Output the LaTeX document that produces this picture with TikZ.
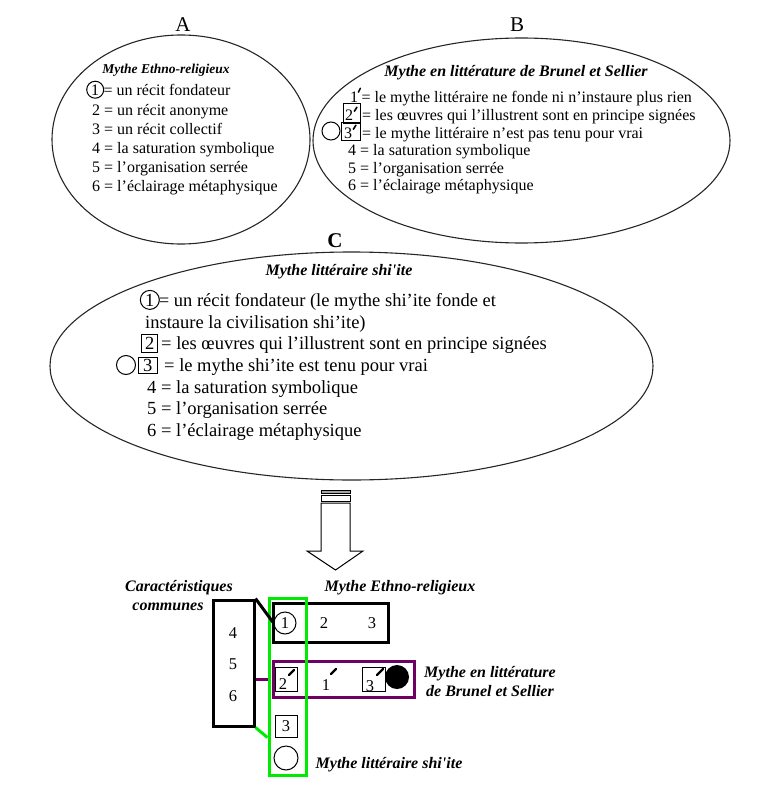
\documentclass[tikz,border=0pt]{standalone}
\usepackage{fontspec}
\setmainfont{Liberation Serif}
\usetikzlibrary{shapes.geometric,positioning}

\definecolor{violetfonce}{RGB}{110,0,100}
\definecolor{vertvif}{RGB}{0,235,0}

\tikzset{
  texte/.style={anchor=base west,inner sep=0pt,font=\fontsize{16}{19}\selectfont},
  texteC/.style={anchor=base west,inner sep=0pt,font=\fontsize{18.5}{22}\selectfont},
  titre/.style={inner sep=0pt,font=\fontsize{16}{19}\selectfont\bfseries\itshape},
  chiffre/.style={inner sep=0pt,font=\fontsize{16.5}{19}\selectfont},
  lettre/.style={inner sep=0pt,font=\fontsize{21}{24}\selectfont},
  rond/.style={circle,draw,line width=1pt,inner sep=0pt},
  carre/.style={rectangle,draw,line width=1pt,inner sep=0pt},
  bulle/.style={ellipse,draw=black!85,line width=1.1pt,inner sep=0pt},
  cadre/.style={rectangle,draw,line width=3pt,inner sep=0pt},
  prime/.style={line width=2.2pt,line cap=round}
}

\begin{document}
\begin{tikzpicture}[x=1pt,y=-1pt]
    \useasboundingbox (0,0) rectangle (769,800);

    % letters and ellipses
    \node[lettre] (lettreA) at (183,25) {A};
    \node[lettre] (lettreB) at (517,25) {B};
    \node[lettre,font=\fontsize{21}{24}\selectfont\bfseries] (lettreC) at (335,241) {C};

    \node[bulle,minimum width=258pt,minimum height=209pt] (ellA) at (181,139.5) {};
    \node[bulle,minimum width=417pt,minimum height=205pt] (ellB) at (521.5,140.5) {};
    \node[bulle,minimum width=603pt,minimum height=228pt] (ellC) at (351.5,366) {};

    % ellipse A
    \node[titre,font=\fontsize{13.5}{16}\selectfont\bfseries\itshape] (titreA) at (166,70) {Mythe Ethno-religieux};
    \node[texte] (a1n) at (91,95) {1};
    \node[rond,minimum width=15pt,minimum height=17pt] (a1c) at (a1n.center) {};
    \node[texte] (a1) at ([xshift=4pt]a1n.base east) {= un récit fondateur};
    \foreach \y/\txt [count=\i from 2] in {115/2 = un récit anonyme,134/3 = un récit collectif,153/4 = la saturation symbolique,172/5 = l’organisation serrée,191/6 = l’éclairage métaphysique}
    \node[texte] (a\i) at (92,\y) {\txt};

    % ellipse B
    \node[titre] (titreB) at (516,73) {Mythe en littérature de Brunel et Sellier};
    \node[texte] (b1n) at (350,102) {1};
    \draw[prime,line width=1.4pt] ([yshift=-1pt]b1n.north east) -- ++(2,-4);
    \node[texte] (b1) at ([xshift=3pt]b1n.base east) {= le mythe littéraire ne fonde ni n’instaure plus rien};

    \node[texte] (b2n) at (345,120) {2};
    \draw[prime,line width=1.6pt] ([xshift=1pt,yshift=-2pt]b2n.north east) -- ++(2.5,-4);
    \node[carre,minimum width=17pt,minimum height=20pt] (b2c) at (351.5,113) {};
    \node[texte] (b2) at (362,120) {= les œuvres qui l’illustrent sont en principe signées};

    \node[rond,minimum size=18pt] (b3r) at (331,131) {};
    \node[texte] (b3n) at (344,138) {3};
    \draw[prime,line width=1.6pt] ([xshift=1pt,yshift=-2pt]b3n.north east) -- ++(2.5,-4);
    \node[carre,minimum width=19pt,minimum height=18pt] (b3c) at (350.5,131) {};
    \node[texte] (b3) at (362,138) {= le mythe littéraire n’est pas tenu pour vrai};

    \foreach \y/\txt [count=\i from 4] in {155/4 = la saturation symbolique,173/5 = l’organisation serrée,190/6 = l’éclairage métaphysique}
    \node[texte] (b\i) at (348,\y) {\txt};

    % ellipse C
    \node[titre] (titreC) at (339,272) {Mythe littéraire shi\textquotesingle ite};
    \node[texteC] (c1n) at (145,306) {1};
    \node[rond,minimum width=15pt,minimum height=19pt] (c1r) at (c1n.center) {};
    \node[texteC] (c1) at ([xshift=4pt]c1n.base east) {= un récit fondateur (le mythe shi’ite fonde et};
    \node[texteC] (c1b) at (145,328) {instaure la civilisation shi’ite)};

    \node[texteC] (c2n) at (145,349) {2};
    \node[carre,minimum width=16pt,minimum height=18pt] (c2c) at (149.5,343.5) {};
    \node[texteC] (c2) at (161,349) {= les œuvres qui l’illustrent sont en principe signées};

    \node[rond,minimum size=19pt] (c3r) at (126,365) {};
    \node[texteC] (c3n) at (143,371) {3};
    \node[carre,minimum width=19pt,minimum height=16pt] (c3c) at (147.5,365.5) {};
    \node[texteC] (c3) at (164,371) {= le mythe shi’ite est tenu pour vrai};

    \foreach \y/\txt [count=\i from 4] in {393/4 = la saturation symbolique,414/5 = l’organisation serrée,436/6 = l’éclairage métaphysique}
    \node[texteC] (c\i) at (147,\y) {\txt};

    % arrow
    \draw[line width=1pt,fill=gray!70] (321,490) rectangle (350,493);
    \draw[line width=1pt,fill=white] (321,495) rectangle (350,501);
    \draw[line width=1pt,fill=white] (321,503) -- (321,551) -- (307,551) -- (335.5,570) -- (363,551) -- (350,551) -- (350,503) -- cycle;

    % common characteristics
    \node[cadre,minimum width=41pt,minimum height=126pt] (commun) at (233.5,663) {};
    \foreach \y/\n in {633/4,664/5,696/6}
    \node[chiffre] (commun\n) at (233,\y) {\n};

    \node[cadre,minimum width=115pt,minimum height=39pt] (mythA) at (330.5,622.5) {};
    \node[cadre,draw=violetfonce,minimum width=141pt,minimum height=36pt] (mythB) at (343.5,679) {};
    \node[cadre,draw=vertvif,minimum width=37pt,minimum height=177pt] (vert) at (287.5,686.5) {};

    \node[rond,chiffre,minimum size=22pt] (eun) at (285,623) {1};
    \node[chiffre] (edeux) at (324,623) {2};
    \node[chiffre] (etrois) at (372,623) {3};

    \node[carre,minimum width=22pt,minimum height=24pt] (pdeux) at (286,679) {};
    \node[chiffre] (pdeuxn) at (283,684) {2};
    \draw[prime] (289,675) -- (294,670);
    \node[chiffre] (pun) at (326,685) {1};
    \draw[prime] (331,674) -- (336,669);
    \node[carre,minimum width=23pt,minimum height=24pt] (ptrois) at (373.5,679) {};
    \node[chiffre] (ptroisn) at (370,686) {3};
    \draw[prime] (377,675) -- (383,669);
    \node[circle,fill=black,minimum size=24pt,inner sep=0pt] (pnoir) at (397,677) {};

    \node[carre,chiffre,minimum width=22pt,minimum height=22pt] (strois) at (286,726) {3};
    \node[rond,minimum size=24pt] (srond) at (286,758) {};

    \draw[line width=3pt] (commun.north east) -- (eun.west);
    \draw[line width=3pt,violetfonce] (commun.east |- mythB.center) -- (vert.west |- mythB.center);
    \draw[line width=3pt,vertvif] (commun.south east) -- (vert.west |- strois.south);

    % labels
    \node[titre] (lblCarac) at (179,588) {Caractéristiques};
    \node[titre] (lblCommun) at (168,607) {communes};
    \node[titre] (lblA) at (400,588) {Mythe Ethno-religieux};
    \node[titre,align=center] (lblB) at (490,681.5) {Mythe en littérature\\de Brunel et Sellier};
    \node[titre] (lblC) at (389,765) {Mythe littéraire shi\textquotesingle ite};

\end{tikzpicture}
\end{document}
